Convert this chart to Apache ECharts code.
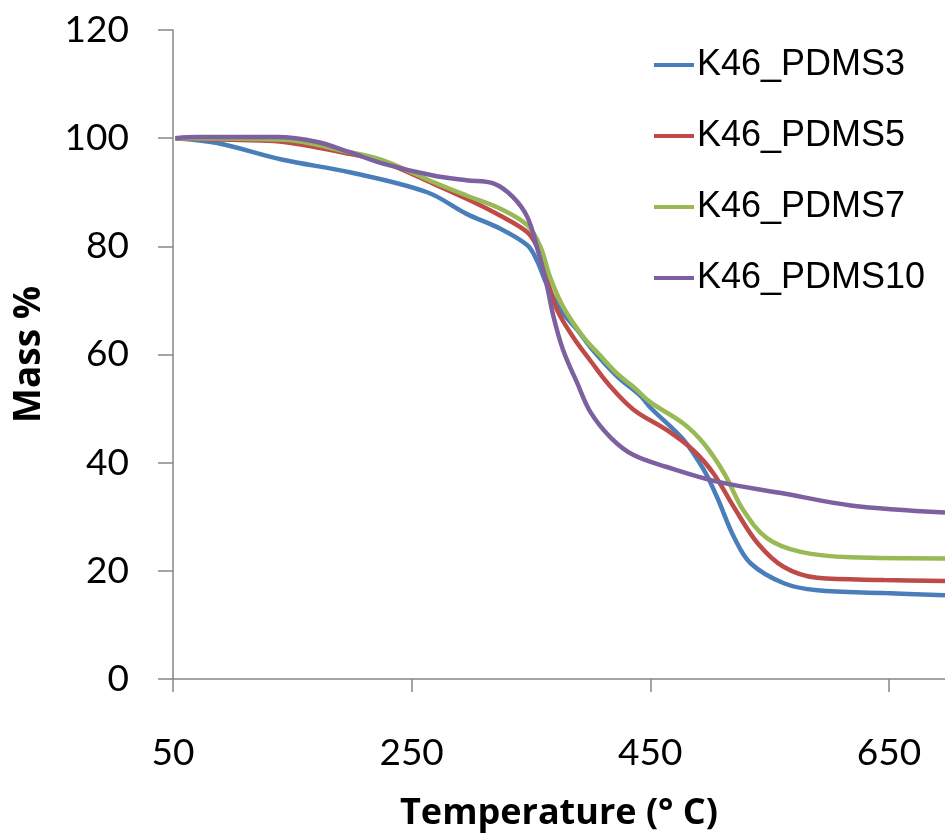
<!DOCTYPE html>
<html>
<head>
<meta charset="utf-8">
<script src="https://cdn.jsdelivr.net/npm/echarts@6/dist/echarts.min.js"></script>
<style>html,body{margin:0;padding:0;background:#fff}#c{width:945px;height:834px}</style>
</head>
<body>
<div id="c"></div>
<script>
const seriesNames = ['K46_PDMS3', 'K46_PDMS5', 'K46_PDMS7', 'K46_PDMS10'];
const xTicks = [50, 250, 450, 650];
const yTicks = [0, 20, 40, 60, 80, 100, 120];

const tempPDMS3 = [52, 87, 142, 198, 263, 296, 324, 347, 355, 363, 375, 389, 400, 422, 442, 450, 478, 495, 506, 520, 534, 562, 590, 646, 697];
const massPDMS3 = [100, 99.1, 96.0, 93.7, 90.0, 86.0, 83.3, 80.2, 77.4, 73.1, 68.2, 64.5, 61.3, 56.0, 52.3, 50.2, 44.2, 38.6, 33.6, 26.3, 21.4, 17.7, 16.4, 15.9, 15.5];

const tempPDMS5 = [52, 115, 143, 198, 226, 268, 296, 324, 347, 355, 363, 372, 386, 400, 415, 436, 464, 486, 503, 520, 540, 562, 590, 646, 697];
const massPDMS5 = [100, 99.6, 99.3, 97.1, 95.6, 91.6, 88.8, 85.7, 82.6, 79.9, 74.3, 68.2, 63.0, 58.8, 54.5, 49.8, 46.0, 42.3, 38.0, 31.8, 25.1, 20.7, 18.7, 18.3, 18.1];

const tempPDMS7 = [52, 143, 198, 226, 268, 296, 324, 347, 358, 366, 377, 394, 408, 422, 436, 450, 478, 495, 512, 528, 548, 576, 618, 697];
const massPDMS7 = [100, 99.7, 97.4, 95.9, 91.9, 89.4, 87.0, 83.9, 79.9, 74.3, 68.8, 63.2, 59.8, 56.5, 54.0, 51.2, 47.2, 43.5, 38.0, 31.2, 26.0, 23.5, 22.5, 22.3];

const tempPDMS10 = [52, 70, 137, 171, 198, 226, 268, 296, 319, 335, 347, 355, 363, 369, 377, 389, 400, 417, 436, 464, 506, 562, 618, 697];
const massPDMS10 = [100, 100.2, 100.2, 99.3, 97.4, 95.3, 93.1, 92.2, 91.6, 89.1, 85.4, 79.9, 73.1, 66.9, 60.8, 54.6, 49.3, 44.6, 41.4, 39.2, 36.5, 34.3, 32.1, 30.8];

const colors = ['#4A7EBB', '#BE4B48', '#98B954', '#7D60A0'];
const temps = [tempPDMS3, tempPDMS5, tempPDMS7, tempPDMS10];
const masses = [massPDMS3, massPDMS5, massPDMS7, massPDMS10];

const font = 'Lato';
const titleFont = 'Open Sans';
const chart = echarts.init(document.getElementById('c'), null, {renderer: 'canvas'});
chart.setOption({
  animation: false,
  backgroundColor: '#fff',
  color: colors,
  grid: {left: 173, right: 0, top: 30, bottom: 155, containLabel: false, outerBoundsMode: 'none'},
  legend: {
    orient: 'vertical', left: 649, top: 40,
    icon: 'rect', itemWidth: 40, itemHeight: 4, itemGap: 31,
    textStyle: {fontFamily: 'Liberation Sans', fontSize: 36, color: '#000', lineHeight: 40, padding: [0, 0, 0, -2]},
    data: seriesNames
  },
  xAxis: {
    type: 'value', min: 50, max: 697,
    name: 'Temperature (° C)', nameLocation: 'middle', nameGap: 117,
    nameTextStyle: {fontFamily: titleFont, fontWeight: 'bold', fontSize: 36, color: '#000'},
    axisLine: {lineStyle: {color: '#868686', width: 1.5}},
    axisTick: {show: true, length: 13, lineStyle: {color: '#868686', width: 1.5}, customValues: xTicks},
    axisLabel: {fontFamily: font, fontSize: 37, color: '#000', margin: 56, customValues: xTicks},
    splitLine: {show: false}
  },
  yAxis: {
    type: 'value', min: 0, max: 120, interval: 20,
    name: 'Mass %', nameLocation: 'middle', nameGap: 125,
    nameTextStyle: {fontFamily: titleFont, fontWeight: 'bold', fontSize: 37, color: '#000'},
    axisLine: {show: true, lineStyle: {color: '#868686', width: 1.5}},
    axisTick: {show: true, length: 15, lineStyle: {color: '#868686', width: 1.5}},
    axisLabel: {fontFamily: font, fontSize: 37, color: '#000', margin: 44},
    splitLine: {show: false}
  },
  series: seriesNames.map((n, i) => ({
    name: n, type: 'line', symbol: 'none', smooth: 0.35,
    lineStyle: {width: 4.5, color: colors[i]},
    itemStyle: {color: colors[i]},
    data: temps[i].map((t, j) => [t, masses[i][j]])
  }))
});
</script>
</body>
</html>
